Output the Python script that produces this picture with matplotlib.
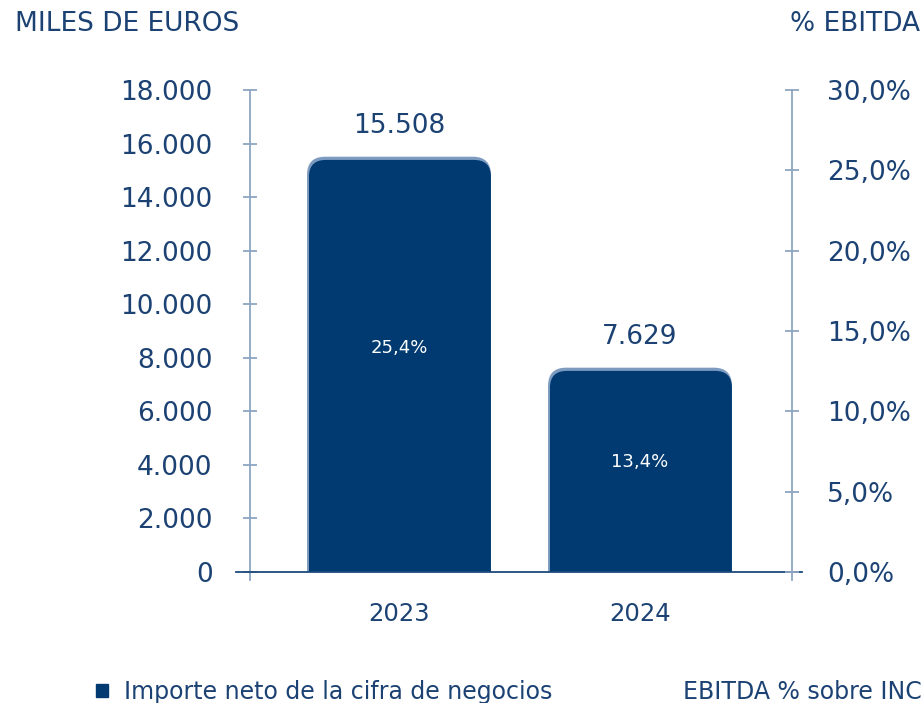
import matplotlib.pyplot as plt
import numpy as np
from matplotlib.patches import FancyBboxPatch, Rectangle
from matplotlib.lines import Line2D

#data------------------------
years = ['2023', '2024']
importe = [15508, 7629]
ebitda_pct = [25.4, 13.4]
importe_labels = ['15.508', '7.629']
ebitda_labels = ['25,4%', '13,4%']
left_ticks = [0, 2000, 4000, 6000, 8000, 10000, 12000, 14000, 16000, 18000]
left_ticklabels = ['0', '2.000', '4.000', '6.000', '8.000', '10.000', '12.000', '14.000', '16.000', '18.000']
right_ticks = [0, 5, 10, 15, 20, 25, 30]
right_ticklabels = ['0,0%', '5,0%', '10,0%', '15,0%', '20,0%', '25,0%', '30,0%']

#style------------------------
navy = '#003a70'
txt = '#1c4274'
spine_c = '#8ea6c2'
plt.rcParams['font.family'] = ['DejaVu Sans']

fig = plt.figure(figsize=(9.24, 7.03), dpi=100)
ax = fig.add_axes([0.2706, 0.175, 0.5866, 0.697])
ax2 = ax.twinx()

x = np.arange(len(years))
w = 0.763
ax.set_xlim(-0.618, 1.631)
ax.set_ylim(-300, 18000)
ax2.set_ylim(-0.5, 30)

bars = ax.bar(x, importe, width=w, color=navy, alpha=0)
# rounded top corners, light rim on top and left
for b in bars:
    x0, bw, h = b.get_x(), b.get_width(), b.get_height()
    clip = Rectangle((x0, 0), bw, h + 50, transform=ax.transData)
    outer = FancyBboxPatch((x0, -2000), bw, h + 2000,
                           boxstyle='round,pad=0,rounding_size=0.075',
                           mutation_aspect=9000, fc='#7d9bc0', ec='none')
    ax.add_patch(outer)
    outer.set_clip_path(clip)
    inner = FancyBboxPatch((x0 + 0.008, -2000), bw - 0.008, h + 2000 - 120,
                           boxstyle='round,pad=0,rounding_size=0.07',
                           mutation_aspect=9000, fc=navy, ec='none')
    ax.add_patch(inner)
    inner.set_clip_path(clip)

for xi, v, lab, pl in zip(x, importe, importe_labels, ebitda_labels):
    ax.annotate(lab, (xi, v), xytext=(0, 13), textcoords='offset points',
                ha='center', va='bottom', fontsize=19, color=txt)
    ax.text(xi, v * 0.54, pl, ha='center', va='center', fontsize=13, color='white')

# axes styling
for a in (ax, ax2):
    for s in ('top', 'bottom'):
        a.spines[s].set_visible(False)
ax.spines['left'].set_color(spine_c)
ax.spines['right'].set_visible(False)
ax2.spines['left'].set_visible(False)
ax2.spines['right'].set_color(spine_c)
ax.spines['left'].set_linewidth(1.3)
ax2.spines['right'].set_linewidth(1.3)

ax.plot([-0.026, 1.019], [0, 0], transform=ax.get_yaxis_transform(),
        color='#1d4a7c', lw=1.3, clip_on=False, zorder=5)

ax.set_yticks(left_ticks)
ax.set_yticklabels(left_ticklabels)
ax.tick_params(axis='y', direction='inout', length=10, width=1.3, color=spine_c,
               labelsize=19, labelcolor=txt, pad=22)
ax2.set_yticks(right_ticks)
ax2.set_yticklabels(right_ticklabels)
ax2.tick_params(axis='y', direction='inout', length=10, width=1.3, color=spine_c,
                labelsize=19, labelcolor=txt, pad=20)

ax.set_xticks(x)
ax.set_xticklabels(years)
ax.tick_params(axis='x', length=0, labelsize=17.5, labelcolor=txt, pad=16)

fig.text(15 / 924, 1 - 24 / 703, 'MILES DE EUROS', fontsize=19, color=txt,
         ha='left', va='center')
fig.text(920 / 924, 1 - 24 / 703, '% EBITDA', fontsize=19, color=txt,
         ha='right', va='center')

handles = [Rectangle((0, 0), 1, 1, color=navy), Line2D([], [], linestyle='none')]
fig.legend(handles, ['Importe neto de la cifra de negocios', 'EBITDA % sobre INC'],
           loc='center left', bbox_to_anchor=(96 / 924, 1 - 692 / 703), ncol=2,
           frameon=False, fontsize=17, labelcolor=txt, borderpad=0, borderaxespad=0,
           handlelength=0.5, handleheight=0.5, handletextpad=0.7, columnspacing=4.3)

fig.savefig('out.png', dpi=100)
